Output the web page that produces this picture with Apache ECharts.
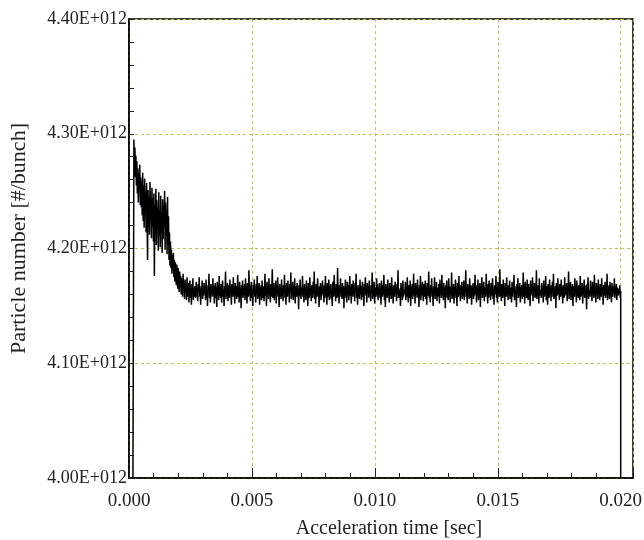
<!DOCTYPE html>
<html><head><meta charset="utf-8">
<script src="https://cdn.jsdelivr.net/npm/echarts@6/dist/echarts.min.js"></script>
<style>html,body{margin:0;padding:0;background:#fff}#c{width:644px;height:540px}</style>
</head><body><div id="c"></div>
<script>
// Particle number in units of 1e9 (#/bunch), sampled evenly from sampleStart to sampleEnd [sec]
const sampleStart = 0.0002;
const sampleEnd = 0.020;
const decayValues = [
4295,4271,4288,4262,4281,4255,4276,4248,4270,4240,4266,4252,4273,4238,4262,
4236,4259,4229,4266,4224,4255,4218,4261,4231,4249,4214,4257,4226,4190,4251,4220,4245,4212,4258,4228,4241,4209,4253,4219,4244,
4206,4248,4176,4238,4215,4252,4203,4242,4221,4236,4198,4249,4212,4233,4201,4246,4218,4230,4196,4243,4208,4237,4223,4250,4199,4240,4211,4234,4195,4245,
4203,4228,4190,4214,4185,4206,4183,4199,4178,4194,
4181,4196,4175,4190,4171,4188,4178,4168,4186,4173,4165,4183,4170,4162,4180,4167,4176,4160,4174,4165,4158,4178,4163,4170,4156,4173,4161,4168,4155,4175,4162,4158,4170,4153,4166,4172,4157,4164,4151,4169,4160,4174,4155,4163,4158,4167
];
const flatValues = [
4168,4157,4171,4160,4165,4154,4169,4162,4175,4158,4163,4151,4167,4160,4172,4156,4164,4159,4170,4161,
4166,4155,4173,4158,4162,4150,4168,4163,4178,4157,4165,4153,4169,4161,4164,4158,4174,4160,4167,4152,
4163,4170,4157,4166,4149,4171,4162,4168,4155,4176,4159,4164,4157,4169,4153,4166,4172,4158,4163,4150,
4167,4161,4180,4156,4165,4159,4170,4154,4168,4162,4157,4173,4160,4166,4151,4169,4163,4158,4175,4161,
4164,4152,4170,4159,4167,4156,4162,4177,4158,4166,4153,4171,4160,4165,4148,4168,4162,4172,4157,4164,
4159,4169,4155,4174,4161,4166,4152,4170,4163,4158,4181,4160,4167,4154,4165,4171,4157,4163,4150,4168,
4162,4173,4158,4165,4153,4169,4160,4176,4156,4164,4159,4170,4151,4166,4162,4168,4155,4172,4161,4157,
4167,4154,4163,4178,4159,4165,4150,4171,4162,4168,4156,4174,4160,4164,4153,4169,4158,4166,4182,4157,
4163,4170,4155,4165,4161,4172,4152,4167,4160,4175,4158,4164,4149,4169,4162,4166,4156,4173,4159,4165,
4154,4168,4161,4177,4157,4163,4151,4170,4164,4158,4172,4160,4166,4153,4169,4162,4179,4156,4165,4159,
4171,4155,4164,4160,4174,4152,4167,4163,4158,4170,4161,4165,4147,4168,4159,4173,4162,4156,4166,4160,
4176,4158,4163,4153,4169,4161,4166,4155,4172,4159,4164,4150,4170,4162,4157,4175,4160,4165,4154,4168,
4163,4157,4171,4160,4180,4156,4166,4152,4169,4162,4158,4174,4161,4164,4149,4167,4163,4170,4155,4165,
4159,4172,4161,4166,4153,4168,4157,4176,4160,4164,4151,4170,4163,4158,4173,4155,4167,4161,4169,4156,
4165,4150,4171,4162,4158,4177,4160,4166,4154,4169,4163,4157,4183,4159,4165,4152,4168,4161,4174,4158,
4164,4156,4170,4160,4167,4148,4166,4162,4173,4157,4165,4153,4171,4161,4168,4155,4163,4176,4159,4166,
4152,4169,4163,4158,4172,4160,4165,4154,4170,4162,4178,4157,4164,4151,4168,4161,4166,4156,4173,4160,
4167,4155,4163,4171,4158,4166,4150,4169,4162,4175,4159,4164,4153,4170,4161,4167,4157,4172,4160,4165,
4154,4168,4162,4179,4156,4165,4159,4171,4152,4166,4163,4158,4174,4160,4169,4155,4164,4161,4170,4157,
4166,4151,4172,4163,4158,4168,4160,4177,4155,4165,4149,4169,4162,4166,4157,4173,4159,4164,4153,4170,
4161,4167,4156,4175,4160,4163,4152,4168,4164,4158,4171,4162,4166,4154,4169,4160,4181,4157,4165,4159,
4163,4150,4170,4161,4166,4155,4172,4158,4164,4162,
4160,4171,4155,4166,4158,4175,4162,4153,4168,4164,4157,4172,4150,4165,4161,4169,4156,4163,4178,4159,
4165,4152,4170,4161,4167,4157,4173,4160,4164,4149,4168,4162,4176,4155,4166,4159,4171,4163,4154,4169,
4158,4164,4172,4156,4166,4151,4170,4162,4159,4180,4157,4165,4153,4168,4161,4174,4158,4163,4150,4167,
4162,4175,4156,4164,4160,4171,4154,4166,4163,4158,4169,4152,4173,4161,4165,4157,4177,4160,4164,4155,
4170,4159,4166,4148,4168,4163,4172,4157,4161,4155,4174,4162,4167,4153,4165,4160,4179,4156,4164,4158,
4169,4152,4166,4161,4173,4157,4163,4150,4170,4164,4158,4176,4160,4165,4154,4168,4162,4171,4156,4163,
4159,4172,4155,4167,4161,4181,4158,4164,4152,4169,4160,4166,4156,4174,4162,4157,4168,4151,4165,4163,
4170,4156,4164,4159,4177,4161,4166,4153,4168,4160,4173,4155,4163,4158,4170,4149,4167,4162,4175,4157,
4165,4160,4171,4154,4166,4163,4158,4178,4161,4164,4152,4169,4157,4172,4160,4166,4155,4170,4162,4159,
4174,4156,4165,4151,4168,4163,4160,4176,4157,4164,4153,4171,4161,4167,4158,4182,4159,4165,4154,4169,
4162,4157,4173,4160,4166,4150,4170,4163,4158,4175,4161,4164,4155,4168,4159,4172,4156,4166,4162,4153,
4171,4158,4165,4161,4177,4155,4167,4160,4163,4149,4169,4162,4174,4157,4164,4159,4170,4153,4166,4161,
4168,4156,4163,4179,4158,4165,4152,4171,4160,4166,4157,4173,4162,4155,4169,4161,4164,4150,4172,4159,
4166,4162,4175,4154,4167,4160,4170,4157,4163,4158,4181,4156,4165,4161,4168,4152,4174,4159,4164,4163,
4157,4170,4161,4166,4153,4172,4158,4164,4160,4176,4155,4167,4162,4151,4169,4163,4157,4173,4160,4165,
4154,4168,4162,4171,4158,4178,4156,4164,4160,4167,4148,4170,4163,4159,4174,4161,4165,4155,4169,4162,
4158,4173,4160,4166,4152,4168,4163,4157,4175,4159,4165,4161,4170,4154,4167,4162,4180,4156,4164,4160,
4171,4155,4166,4161,4169,4150,4167,4163,4158,4174,4160,4165,4153,4172,4159,4164,4157,4168,4162,4155,
4176,4158,4163,4160,4170,4152,4166,4162,4173,4157,4165,4159,4168,4147,4169,4161,4175,4156,4164,4163,
4158,4172,4160,4167,4154,4171,4162,4165,4157,4177,4159,4164,4153,4170,4161,4166,4156,4173,4160,4165,
4155,4169,4163,4158,4174,4161,4166,4151,4168,4162,4159,4171,4157,4165,4160,4178,4155,4164,4162,4168,
4156,4171,4160,4165,4153,4170,4162,4158,4167,4161,4174,4157,4164,4160,4169,4155,4166,4162,4159,4165,
4161,4168,4157,4163
];
// injection start and beam dump (vertical edges)
const startEdge = [0.00016, 4000];
const endEdge = [0.020, 4000];
const yTicks = ['4.00E+012','4.10E+012','4.20E+012','4.30E+012','4.40E+012'];
const xTicks = ['0.000','0.005','0.010','0.015','0.020'];

const values = decayValues.concat(flatValues);
const n = values.length;
const data = [startEdge];
for (let i = 0; i < n; i++) {
  data.push([sampleStart + i * (sampleEnd - sampleStart) / (n - 1), values[i]]);
}
data.push(endEdge);

const font = 'Liberation Serif';
const gridColor = '#c0c052';
const chart = echarts.init(document.getElementById('c'), null, {renderer: 'canvas'});
chart.setOption({
  animation: false,
  backgroundColor: '#fff',
  grid: {left: 129, right: 11, top: 19, bottom: 62, outerBoundsMode: 'none', containLabel: false,
    show: true, borderColor: '#000', borderWidth: 1.5, backgroundColor: 'transparent'},
  xAxis: {
    type: 'value', min: 0, max: 0.0205, interval: 0.005,
    name: 'Acceleration time [sec]', nameLocation: 'middle', nameGap: 41,
    nameTextStyle: {fontFamily: font, fontSize: 20, color: '#222', padding: [0, 0, 0, 16]},
    axisLine: {show: true, lineStyle: {color: '#000', width: 1.5}},
    axisTick: {show: true, inside: true, length: 10, lineStyle: {color: '#222'}},
    minorTick: {show: true, splitNumber: 5, length: 5, lineStyle: {color: '#222'}},
    axisLabel: {fontFamily: font, fontSize: 19, color: '#222', margin: 14,
      formatter: v => { const k = Math.round(v / 0.005); return Math.abs(v - k * 0.005) < 1e-9 ? xTicks[k] : ''; }},
    splitLine: {show: true, lineStyle: {color: gridColor, type: [3, 3], width: 1}}
  },
  yAxis: {
    type: 'value', min: 4000, max: 4400, interval: 100,
    name: 'Particle number [#/bunch]', nameLocation: 'middle', nameGap: 99,
    nameTextStyle: {fontFamily: font, fontSize: 22, color: '#222', padding: [0, 0, 0, 20]},
    axisLine: {show: true, lineStyle: {color: '#000', width: 1.5}},
    axisTick: {show: true, inside: true, length: 5, lineStyle: {color: '#222'}},
    minorTick: {show: true, splitNumber: 5, length: 5, lineStyle: {color: '#222'}},
    axisLabel: {fontFamily: font, fontSize: 18, color: '#222', margin: 2,
      formatter: v => yTicks[Math.round((v - 4000) / 100)]},
    splitLine: {show: true, lineStyle: {color: gridColor, type: [3, 3], width: 1}}
  },
  series: [{
    type: 'line', data: data, showSymbol: false, symbol: 'none',
    lineStyle: {color: '#000', width: 1.5}, sampling: null
  }]
});
</script></body></html>
